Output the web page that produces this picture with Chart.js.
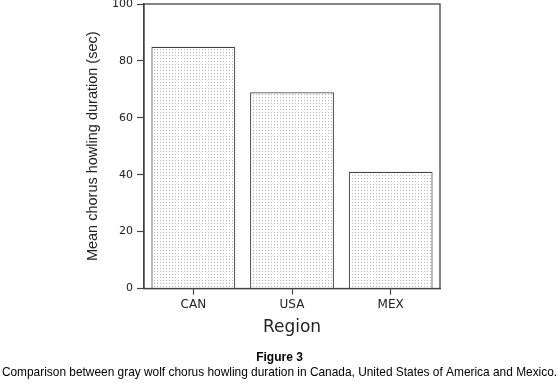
<!DOCTYPE html>
<html lang="en">
  <head>
    <meta charset="UTF-8" />
    <title>Gray wolf chorus howling duration</title>
    <script src="https://cdn.jsdelivr.net/npm/chart.js"></script>
    <style>
      html, body { margin: 0; padding: 0; background: #fff; }
      #wrap { width: 559px; height: 383px; }
    </style>
  </head>
  <body>
    <div id="wrap"><canvas id="howlChart"></canvas></div>
    <script>
      const regions = ["CAN", "USA", "MEX"];
      const meanDuration = [85, 69, 41];
      const yTicks = [0, 20, 40, 60, 80, 100];

      // dotted screen fill like the printed figure
      function dotPattern() {
        const c = document.createElement("canvas");
        c.width = 3;
        c.height = 3;
        const g = c.getContext("2d");
        g.fillStyle = "#ffffff";
        g.fillRect(0, 0, 3, 3);
        g.fillStyle = "#b8b8b8";
        g.fillRect(1, 1, 1, 1);
        return g.createPattern(c, "repeat");
      }

      const frame = {
        id: "frame",
        afterDraw(chart) {
          const { ctx, chartArea: a } = chart;
          ctx.save();
          ctx.strokeStyle = "#444";
          ctx.lineWidth = 1.3;
          ctx.strokeRect(a.left, a.top, a.right - a.left, a.bottom - a.top);
          ctx.restore();
        },
      };

      const ctx = document.getElementById("howlChart").getContext("2d");
      new Chart(ctx, {
        type: "bar",
        data: {
          labels: regions,
          datasets: [
            {
              label: "Mean chorus howling duration (sec)",
              data: meanDuration,
              backgroundColor: dotPattern(),
              borderColor: "#444",
              borderWidth: 1.2,
              categoryPercentage: 1,
              barPercentage: 0.85,
            },
          ],
        },
        options: {
          responsive: true,
          maintainAspectRatio: false,
          animation: false,
          layout: { padding: 0 },
          scales: {
            x: {
              grid: {
                offset: false,
                drawOnChartArea: false,
                tickLength: 6,
                tickColor: "#444",
                tickWidth: 1.2,
              },
              border: { color: "#444", width: 1.3 },
              ticks: {
                color: "#222",
                font: { family: "DejaVu Sans", size: 12 },
                padding: 3,
              },
              title: {
                display: true,
                text: "Region",
                color: "#222",
                font: { family: "DejaVu Sans", size: 17 },
                padding: { top: 2, bottom: 0 },
              },
            },
            y: {
              min: 0,
              max: 100,
              afterBuildTicks: (s) => {
                s.ticks = yTicks.map((v) => ({ value: v }));
              },
              afterFit: (s) => {
                s.width = 144;
                s.paddingTop = 4;
                s.paddingBottom = 0;
              },
              grid: { drawOnChartArea: false, tickLength: 7, tickColor: "#444", tickWidth: 1.2 },
              border: { color: "#444", width: 1.3 },
              ticks: {
                color: "#222",
                font: { family: "DejaVu Sans", size: 11 },
                padding: 4,
              },
              title: {
                display: true,
                text: "Mean chorus howling duration (sec)",
                color: "#222",
                font: { family: "Liberation Sans", size: 14.5 },
                padding: { top: 84, bottom: 0 },
              },
            },
            // empty right-hand strip, keeps the plot where the figure has it
            side: {
              type: "linear",
              position: "right",
              display: true,
              grid: { display: false },
              border: { display: false },
              ticks: { display: false },
              afterFit: (s) => {
                s.width = 119;
              },
            },
          },
          plugins: {
            legend: { display: false },
            tooltip: { enabled: false },
            title: {
              display: true,
              position: "bottom",
              text: "Figure 3",
              color: "#000",
              font: { family: "Liberation Sans", size: 12, weight: "bold" },
              padding: { top: 13, bottom: 0 },
              weight: 1500,
            },
            subtitle: {
              display: true,
              position: "bottom",
              text: "Comparison between gray wolf chorus howling duration in Canada, United States of America and Mexico.",
              color: "#000",
              font: { family: "Liberation Sans", size: 11.9 },
              padding: { top: 1, bottom: 3 },
              weight: 2000,
            },
          },
        },
        plugins: [frame],
      });
    </script>
  </body>
</html>
